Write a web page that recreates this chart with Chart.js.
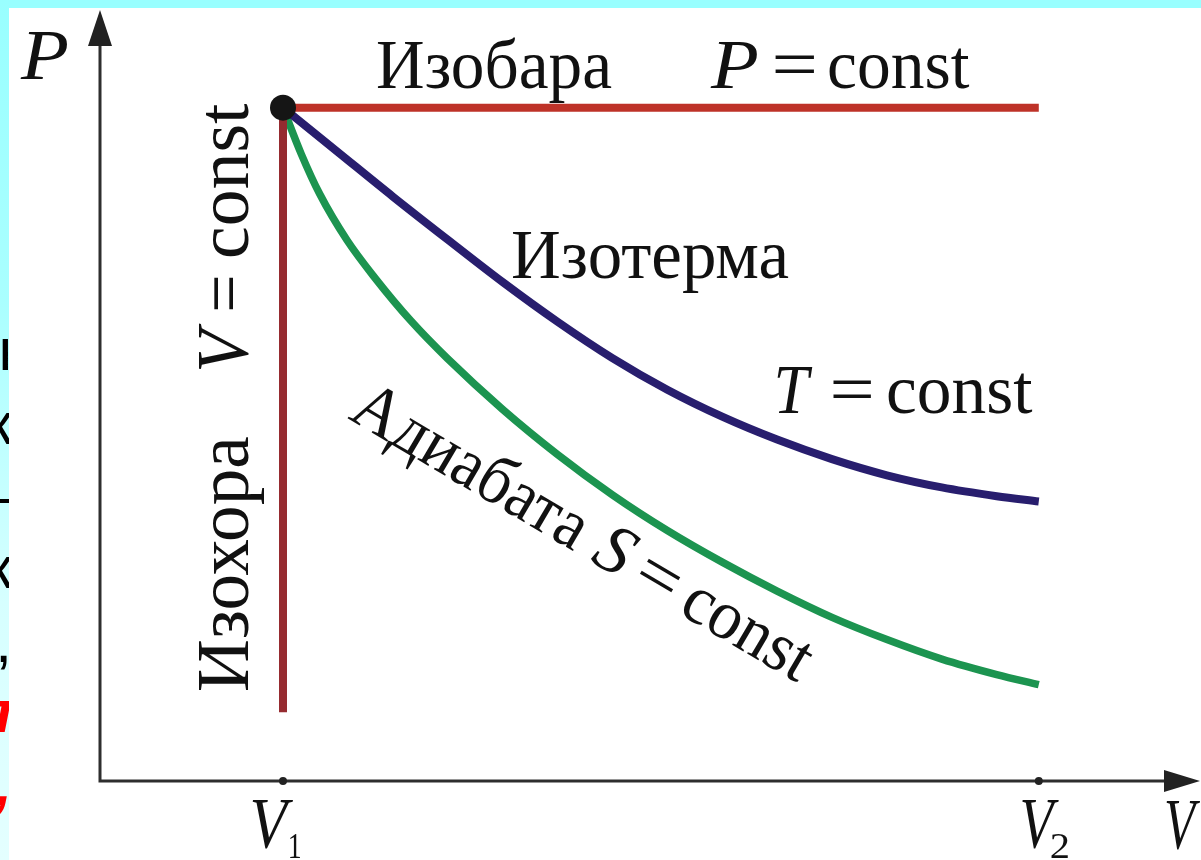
<!DOCTYPE html>
<html>
<head>
<meta charset="utf-8">
<script src="https://cdn.jsdelivr.net/npm/chart.js@4.4.0/dist/chart.umd.min.js"></script>
<style>
  html, body { margin: 0; padding: 0; background: #ffffff; }
  #wrap { position: relative; width: 1201px; height: 860px; overflow: hidden; background: #fff; }
  #c { position: absolute; left: 0; top: 0; }
  #topband { position: absolute; left: 0; top: 0; width: 1201px; height: 8px; background: #99ffff; }
  #leftband { position: absolute; left: 0; top: 0; width: 9px; height: 860px; overflow: hidden;
              background: linear-gradient(to bottom, #99ffff 0%, #aaffff 35%, #d6ffff 70%, #e4ffff 100%); }
  .frag { position: absolute; right: -3px; font-family: "Liberation Sans", Arial, sans-serif; font-size: 60px;
          line-height: 1; color: #000; white-space: nowrap; }
  .red { color: #ff0000; font-weight: bold; font-style: italic; }
  .preload { position: absolute; left: -9999px; top: 0; font-family: "Liberation Serif"; font-size: 70px; }
</style>
</head>
<body>
<div id="wrap">
  <canvas id="c" width="1201" height="860"></canvas>
  <div id="topband"></div>
  <div id="leftband">
    <span class="frag" style="top:320px">ы</span>
    <span class="frag" style="top:394px">к</span>
    <span class="frag" style="top:466px">–</span>
    <span class="frag" style="top:538px">к</span>
    <span class="frag" style="top:612px">,</span>
    <span class="frag red" style="top:682px">п</span>
    <span class="frag red" style="top:755px">,</span>
  </div>
</div>
<span class="preload">Изобара const</span><span class="preload" style="font-style:italic">PVTS</span>
<script>
// ---- data (V in units of V1, P in units of P1) ----
const isobarV   = [1, 5.13];
const isobarP   = [1, 1];
const isochoreV = [1, 1];
const isochoreP = [1, 0.102];
const isothermV = [1, 1.3, 1.6, 1.9, 2.2, 2.5, 2.8, 3.1, 3.4, 3.7, 4.0, 4.3, 4.6, 4.9, 5.13];
const isothermP = [1, 0.934, 0.868, 0.804, 0.741, 0.682, 0.628, 0.581, 0.541, 0.507, 0.478, 0.454, 0.436, 0.423, 0.415];
const adiabatV  = [1, 1.1, 1.2, 1.35, 1.5, 1.7, 1.9, 2.2, 2.5, 2.8, 3.1, 3.4, 3.7, 4.0, 4.3, 4.6, 4.9, 5.13];
const adiabatP  = [1, 0.931, 0.872, 0.803, 0.748, 0.683, 0.627, 0.552, 0.485, 0.425, 0.372, 0.325, 0.282, 0.243, 0.210, 0.181, 0.158, 0.143];
const stateV    = [1];
const stateP    = [1];
const tickValues = [1, 5.13];
const tickLabels = ['1', '2'];   // subscripts of V

function pts(xs, ys) { return xs.map((x, i) => ({ x: x, y: ys[i] })); }

const FONT = '"Liberation Serif","Times New Roman",serif';
const INK = '#111111';

function fitText(ctx, txt, x, y, w, size, italic) {
  ctx.save();
  ctx.font = (italic ? 'italic ' : '') + size + 'px ' + FONT;
  const m = ctx.measureText(txt);
  const l = m.actualBoundingBoxLeft, r = m.actualBoundingBoxRight;
  const sx = w / (l + r);
  ctx.translate(x, y);
  ctx.scale(sx, 1);
  ctx.fillStyle = INK;
  ctx.textBaseline = 'alphabetic';
  ctx.textAlign = 'left';
  ctx.fillText(txt, l, 0);
  ctx.restore();
}

const axesPlugin = {
  id: 'pvaxes',
  beforeDatasetsDraw(chart) {
    const ctx = chart.ctx, xs = chart.scales.x, ys = chart.scales.y, ca = chart.chartArea;
    const x0 = xs.getPixelForValue(0), y0 = ys.getPixelForValue(0);
    ctx.save();
    ctx.strokeStyle = '#2e2e2e';
    ctx.fillStyle = '#222';
    ctx.lineWidth = 3;
    ctx.beginPath();
    ctx.moveTo(x0, y0 + 1.5); ctx.lineTo(x0, ca.top + 30);
    ctx.moveTo(x0 - 1.5, y0); ctx.lineTo(ca.right - 30, y0);
    ctx.stroke();
    // arrows
    ctx.beginPath();
    ctx.moveTo(x0, ca.top); ctx.lineTo(x0 - 12, ca.top + 36); ctx.lineTo(x0 + 12, ca.top + 36); ctx.closePath();
    ctx.fill();
    ctx.beginPath();
    ctx.moveTo(ca.right + 2, y0); ctx.lineTo(ca.right - 34, y0 - 11); ctx.lineTo(ca.right - 34, y0 + 11); ctx.closePath();
    ctx.fill();
    // tick dots
    tickValues.forEach(v => {
      ctx.beginPath();
      ctx.arc(xs.getPixelForValue(v), y0, 4, 0, Math.PI * 2);
      ctx.fill();
    });
    ctx.restore();
  },
  afterDraw(chart) {
    const ctx = chart.ctx;
    const S = 70;
    // axis labels
    fitText(ctx, 'P', 20, 79, 48, 72, true);
    fitText(ctx, 'V', 1166, 848, 34, 72, true);
    // V1, V2 tick labels
    const xs = chart.scales.x;
    const vOff = [-31, -17], vW = [41, 37], sOff = [7, 12], sW = [10, 18];
    tickValues.forEach((v, i) => {
      const px = xs.getPixelForValue(v);
      fitText(ctx, 'V', px + vOff[i], 847, vW[i], 72, true);
      fitText(ctx, tickLabels[i], px + sOff[i], 858, sW[i], 36, false);
    });
    // isobar label
    fitText(ctx, 'Изобара', 378, 88, 234, S, false);
    fitText(ctx, 'P', 710, 88, 47, S, true);
    fitText(ctx, '=', 775, 88, 40, S, false);
    fitText(ctx, 'const', 829, 88, 141, S, false);
    // isotherm label
    fitText(ctx, 'Изотерма', 513, 278, 276, S, false);
    fitText(ctx, 'T', 777, 413, 36, S, true);
    fitText(ctx, '=', 833, 413, 39, S, false);
    fitText(ctx, 'const', 888, 413, 145, S, false);
    // isochore label (rotated)
    ctx.save();
    ctx.translate(248, 690);
    ctx.rotate(-Math.PI / 2);
    fitText(ctx, 'Изохора', 0, 0, 253, 74, false);
    fitText(ctx, 'V', 320, 0, 47, 74, true);
    fitText(ctx, '=', 380, 0, 33, 74, false);
    fitText(ctx, 'const', 433, 0, 154, 74, false);
    ctx.restore();
    // adiabat label (rotated)
    ctx.save();
    ctx.translate(347, 418);
    ctx.rotate(30.5 * Math.PI / 180);
    fitText(ctx, 'Адиабата', 0, 0, 263, S, false);
    fitText(ctx, 'S', 281, 0, 34, S, true);
    fitText(ctx, '=', 331, 0, 38, S, false);
    fitText(ctx, 'const', 385, 0, 138, S, false);
    ctx.restore();
  }
};

function build() {
  new Chart(document.getElementById('c'), {
    type: 'scatter',
    data: {
      datasets: [
        { label: 'state', data: pts(stateV, stateP), pointRadius: 13, pointBackgroundColor: '#151515',
          pointBorderWidth: 0, showLine: false, clip: false },
        { label: 'Изобара', data: pts(isobarV, isobarP), showLine: true, borderColor: '#BE3228',
          borderWidth: 8, pointRadius: 0, clip: false },
        { label: 'Изохора', data: pts(isochoreV, isochoreP), showLine: true, borderColor: '#962B30',
          borderWidth: 8, pointRadius: 0, clip: false },
        { label: 'Изотерма', data: pts(isothermV, isothermP), showLine: true, borderColor: '#281E6E',
          borderWidth: 8, pointRadius: 0, cubicInterpolationMode: 'monotone', clip: false },
        { label: 'Адиабата', data: pts(adiabatV, adiabatP), showLine: true, borderColor: '#1C9450',
          borderWidth: 7.5, pointRadius: 0, cubicInterpolationMode: 'monotone', clip: false }
      ]
    },
    options: {
      responsive: false,
      animation: false,
      layout: { autoPadding: false, padding: { left: 100, right: 3, top: 10, bottom: 79 } },
      plugins: { legend: { display: false }, tooltip: { enabled: false } },
      elements: { line: { borderCapStyle: 'butt' } },
      scales: {
        x: { type: 'linear', min: 0, max: 6, display: false },
        y: { type: 'linear', min: 0, max: 1.145, display: false }
      }
    },
    plugins: [axesPlugin]
  });
}

const fontJobs = document.fonts && document.fonts.load ? [
  document.fonts.load('70px "Liberation Serif"', 'Изобара const'),
  document.fonts.load('italic 70px "Liberation Serif"', 'PVTS')
] : [];
let built = false;
function once() { if (!built) { built = true; build(); } }
Promise.all(fontJobs).then(once, once);
setTimeout(once, 1500);
</script>
</body>
</html>
